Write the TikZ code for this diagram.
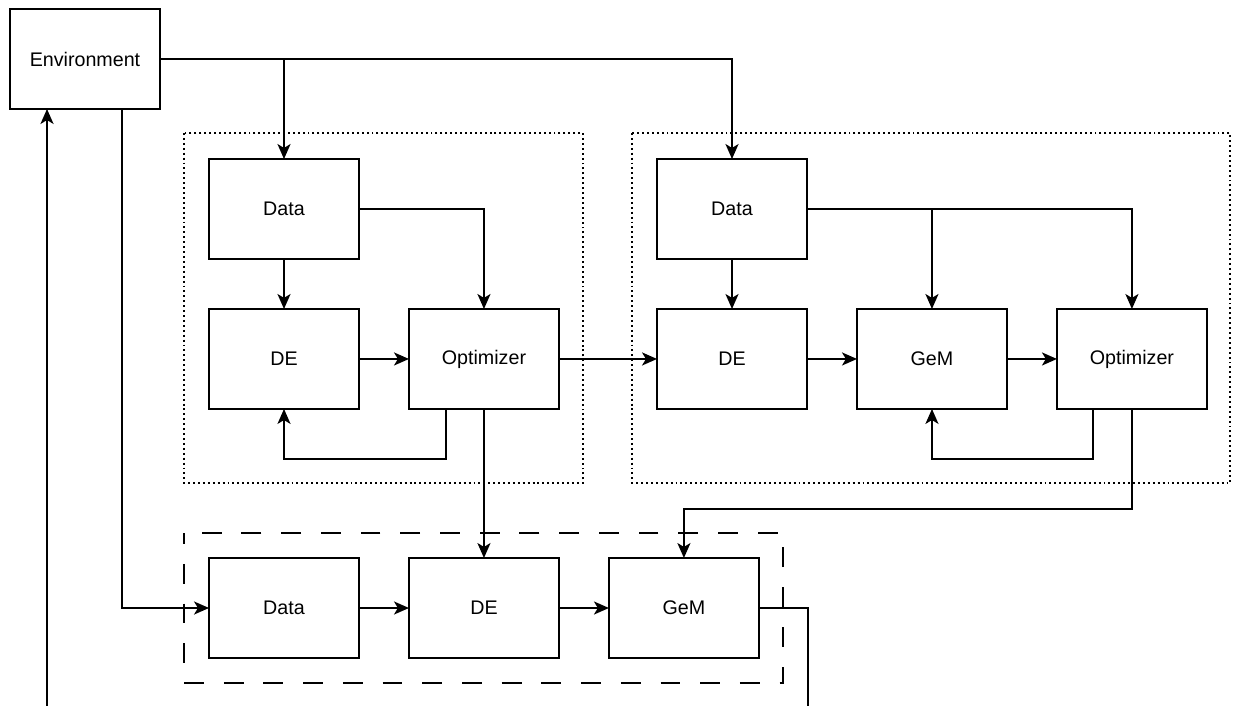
\documentclass[tikz,border=0pt]{standalone}
\usepackage{fontspec}
\setmainfont{Liberation Sans}
\usetikzlibrary{arrows.meta, positioning}
\tikzset{
    block/.style={
        rectangle,
        draw=black,
        line width=1.15pt,
        minimum width=3cm,
        minimum height=2cm,
        inner sep=0pt,
        outer sep=0pt,
        align=center,
        font=\fontsize{11.2}{13}\selectfont
    },
    arrow/.style={
        -{Stealth[length=8.5pt, width=7.4pt, inset=2.2pt]},
        line width=1.15pt,
        draw=black
    },
    dotted group/.style={
        draw=black,
        line width=1.15pt,
        dash pattern=on 1.1pt off 1.7pt
    },
    dashed group/.style={
        draw=black,
        line width=1.15pt,
        dash pattern=on 11.3pt off 11.3pt,
        dash phase=5pt
    }
}

\begin{document}
\begin{tikzpicture}[x=0.02cm, y=-0.02cm, node distance=1cm and 1cm]
\useasboundingbox (0,0) rectangle (1233,706);

% Environment
\node[block] (env) at (85,59) {Environment};

% First stage
\node[block] (data1) at (284,209) {Data};
\node[block, below=of data1] (de1) {DE};
\node[block, right=of de1] (opt1) {Optimizer};

% Second stage
\node[block] (data2) at (732,209) {Data};
\node[block, below=of data2] (de2) {DE};
\node[block, right=of de2] (gem2) {GeM};
\node[block, right=of gem2] (opt2) {Optimizer};

% Deployed pipeline
\node[block] (data3) at (284,608) {Data};
\node[block, right=of data3] (de3) {DE};
\node[block, right=of de3] (gem3) {GeM};

% Group frames
\draw[dotted group] (184,133) rectangle (583,483);
\draw[dotted group] (632,133) rectangle (1230,483);
\draw[dashed group] (184,533) rectangle (783,683);

% Loop end below the page
\coordinate (ret) at (808,740);

% Environment feeds the data blocks
\draw[arrow] (env.east) -| (data2.north);
\draw[arrow] (data1.north |- env.east) -- (data1.north);
\draw[arrow] ([xshift=0.74cm]env.south) |- (data3.west);

% First stage
\draw[arrow] (data1.south) -- (de1.north);
\draw[arrow] (data1.east) -| (opt1.north);
\draw[arrow] (de1.east) -- (opt1.west);
\draw[arrow] ([xshift=-0.76cm]opt1.south) -- ++(0,50) -| (de1.south);
\draw[arrow] (opt1.south) -- (de3.north);
\draw[arrow] (opt1.east) -- (de2.west);

% Second stage
\draw[arrow] (data2.south) -- (de2.north);
\draw[arrow] (data2.east) -| (opt2.north);
\draw[arrow] (data2.east) -| (gem2.north);
\draw[arrow] (de2.east) -- (gem2.west);
\draw[arrow] (gem2.east) -- (opt2.west);
\draw[arrow] ([xshift=-0.78cm]opt2.south) -- ++(0,50) -| (gem2.south);
\draw[arrow] (opt2.south) -- ++(0,100) -| (gem3.north);

% Deployed pipeline
\draw[arrow] (data3.east) -- (de3.west);
\draw[arrow] (de3.east) -- (gem3.west);
\draw[arrow] (gem3.east) -| (ret) -| ([xshift=-0.76cm]env.south);

\end{tikzpicture}
\end{document}
